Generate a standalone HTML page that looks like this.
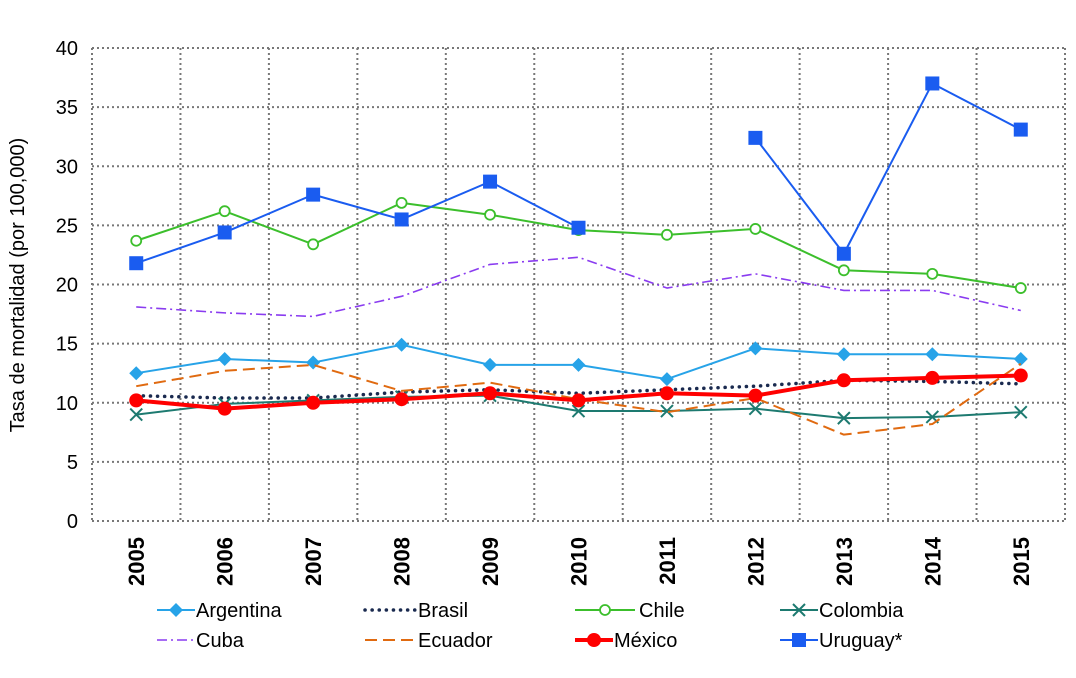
<!DOCTYPE html>
<html><head><meta charset="utf-8"><style>
body{margin:0;background:#fff;}
svg{display:block;font-family:"Liberation Sans",sans-serif;}
</style></head><body>
<svg id="chart" width="1076" height="678"></svg>
<script>
const years=["2005","2006","2007","2008","2009","2010","2011","2012","2013","2014","2015"];
const yTicks=[0,5,10,15,20,25,30,35,40];
const argentina=[12.5,13.7,13.4,14.9,13.2,13.2,12.0,14.6,14.1,14.1,13.7];
const brasil=[10.6,10.4,10.4,10.9,11.1,10.8,11.1,11.4,11.9,11.8,11.6];
const chile=[23.7,26.2,23.4,26.9,25.9,24.6,24.2,24.7,21.2,20.9,19.7];
const colombia=[9.0,9.9,10.2,10.5,10.6,9.3,9.3,9.5,8.7,8.8,9.2];
const cuba=[18.1,17.6,17.3,19.0,21.7,22.3,19.7,20.9,19.5,19.5,17.8];
const ecuador=[11.4,12.7,13.2,11.0,11.7,10.3,9.2,10.4,7.3,8.2,13.3];
const mexico=[10.2,9.5,10.0,10.3,10.8,10.2,10.8,10.6,11.9,12.1,12.3];
const uruguay=[21.8,24.4,27.6,25.5,28.7,24.8,null,32.4,22.6,37.0,33.1];

const svg=document.getElementById('chart');
const NS='http://www.w3.org/2000/svg';
const L=92,R=1065,T=48,B=521,yMax=40;
const band=(R-L)/years.length;
const x=i=>L+band*(i+0.5);
const y=v=>B-(v/yMax)*(B-T);
function mk(tag,attrs,parent){const e=document.createElementNS(NS,tag);for(const k in attrs)e.setAttribute(k,attrs[k]);(parent||svg).appendChild(e);return e;}

yTicks.forEach(t=>{
  const g=mk('line',{x1:L,x2:R,y1:y(t),y2:y(t),stroke:'#777','stroke-width':2,'stroke-dasharray':'2,3'});
  
  
  const lb=mk('text',{x:L-14,y:y(t)+7,'text-anchor':'end','font-size':20,fill:'#000'});
  lb.textContent=t;
  
  
});
for(let i=0;i<=years.length;i++){
  const g=mk('line',{x1:L+band*i,x2:L+band*i,y1:T,y2:B,stroke:'#777','stroke-width':2,'stroke-dasharray':'2,3'});
  
  
}
years.forEach((yr,i)=>{
  const t=mk('text',{transform:`translate(${x(i)+8},${B+16}) rotate(-90)`,'text-anchor':'end','font-size':22,'font-weight':'bold',fill:'#000'});
  t.textContent=yr;
  
  
});
const yt=mk('text',{transform:'translate(24,285) rotate(-90)','text-anchor':'middle','font-size':20,fill:'#000'});
yt.textContent='Tasa de mortalidad (por 100,000)';



function marker(type,cx,cy,color,g){
  if(type==='diamond')mk('polygon',{points:`${cx},${cy-7} ${cx+7},${cy} ${cx},${cy+7} ${cx-7},${cy}`,fill:color},g);
  else if(type==='circleOpen')mk('circle',{cx,cy,r:5,fill:'#fff',stroke:color,'stroke-width':1.8},g);
  else if(type==='x'){mk('path',{d:`M${cx-6},${cy-6}L${cx+6},${cy+6}M${cx-6},${cy+6}L${cx+6},${cy-6}`,stroke:color,'stroke-width':2},g);}
  else if(type==='circle')mk('circle',{cx,cy,r:7,fill:color},g);
  else if(type==='square')mk('rect',{x:cx-7,y:cy-7,width:14,height:14,fill:color},g);
}
const series=[
 {name:'Argentina',data:argentina,color:'#27a3e8',w:2,dash:'',m:'diamond',lx:157,ly:610},
 {name:'Brasil',data:brasil,color:'#1a2a4f',w:3.5,dash:'0.1,7',cap:'round',m:null,lx:365,ly:610},
 {name:'Chile',data:chile,color:'#3cbf2c',w:2,dash:'',m:'circleOpen',lx:575,ly:610},
 {name:'Colombia',data:colombia,color:'#1d7a70',w:2,dash:'',m:'x',lx:780,ly:610},
 {name:'Cuba',data:cuba,color:'#8a3cf0',w:1.6,dash:'10,4,2,4',m:null,lx:157,ly:640},
 {name:'Ecuador',data:ecuador,color:'#e06a10',w:2,dash:'12,6',m:null,lx:365,ly:640},
 {name:'México',data:mexico,color:'#ff0000',w:4,dash:'',m:'circle',lx:575,ly:640},
 {name:'Uruguay*',data:uruguay,color:'#1a5cf0',w:2,dash:'',m:'square',lx:780,ly:640},
];
series.forEach(s=>{
  const g=mk('g',{});
  
  
  let d='',pen=false;
  s.data.forEach((v,i)=>{if(v==null){pen=false;return;}d+=(pen?'L':'M')+x(i)+','+y(v);pen=true;});
  mk('path',{d,fill:'none',stroke:s.color,'stroke-width':s.w,'stroke-dasharray':s.dash,'stroke-linecap':s.cap||'butt','stroke-linejoin':'round'},g);
  if(s.m)s.data.forEach((v,i)=>{if(v!=null)marker(s.m,x(i),y(v),s.color,g);});
  const lg=mk('g',{});
  
  
  const lw=s.name==='Brasil'||s.name==='Ecuador'?52:(s.name==='Chile'?60:38);
  mk('line',{x1:s.lx,x2:s.lx+lw,y1:s.ly,y2:s.ly,stroke:s.color,'stroke-width':s.w,'stroke-dasharray':s.dash,'stroke-linecap':s.cap||'butt'},lg);
  if(s.m)marker(s.m,s.lx+lw/2,s.ly,s.color,lg);
  const t=mk('text',{x:s.lx+lw+(s.name==='Chile'?3:0)+1,y:s.ly+7,'font-size':20,fill:'#000'},lg);
  t.textContent=s.name;
});
</script>
</body></html>
